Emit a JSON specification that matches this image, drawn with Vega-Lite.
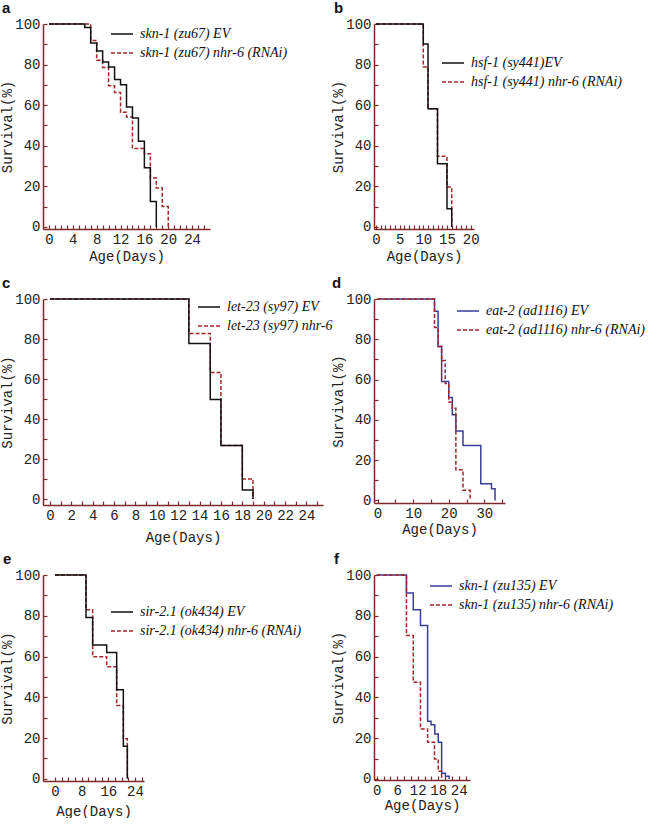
{
  "$schema": "https://vega.github.io/schema/vega-lite/v6.json",
  "background": "white",
  "padding": {"left": 0, "top": 1, "right": 0, "bottom": 0},
  "columns": 2,
  "bounds": "flush",
  "align": "each",
  "spacing": {"row": 70, "column": 51},
  "resolve": {
    "scale": {"color": "independent", "strokeDash": "independent", "x": "independent", "y": "independent"},
    "legend": {"color": "independent", "strokeDash": "independent"}
  },
  "concat": [
    {
      "title": {"text": "a", "dx": -41},
      "width": 167, "height": 205,
      "data": {"values": [
        {"day": 0, "surv": 100, "series": "skn-1 (zu67) nhr-6 (RNAi)"},
        {"day": 7, "surv": 91.9, "series": "skn-1 (zu67) nhr-6 (RNAi)"},
        {"day": 8, "surv": 82.1, "series": "skn-1 (zu67) nhr-6 (RNAi)"},
        {"day": 9, "surv": 78.6, "series": "skn-1 (zu67) nhr-6 (RNAi)"},
        {"day": 10, "surv": 69.6, "series": "skn-1 (zu67) nhr-6 (RNAi)"},
        {"day": 11, "surv": 66.3, "series": "skn-1 (zu67) nhr-6 (RNAi)"},
        {"day": 12, "surv": 56.5, "series": "skn-1 (zu67) nhr-6 (RNAi)"},
        {"day": 13, "surv": 54.2, "series": "skn-1 (zu67) nhr-6 (RNAi)"},
        {"day": 14, "surv": 38.6, "series": "skn-1 (zu67) nhr-6 (RNAi)"},
        {"day": 16, "surv": 36.1, "series": "skn-1 (zu67) nhr-6 (RNAi)"},
        {"day": 17, "surv": 24.1, "series": "skn-1 (zu67) nhr-6 (RNAi)"},
        {"day": 18, "surv": 19.2, "series": "skn-1 (zu67) nhr-6 (RNAi)"},
        {"day": 19, "surv": 10.1, "series": "skn-1 (zu67) nhr-6 (RNAi)"},
        {"day": 20, "surv": 0, "series": "skn-1 (zu67) nhr-6 (RNAi)"},
        {"day": 0, "surv": 100, "series": "skn-1 (zu67) EV"},
        {"day": 6, "surv": 98.3, "series": "skn-1 (zu67) EV"},
        {"day": 7, "surv": 90.6, "series": "skn-1 (zu67) EV"},
        {"day": 8, "surv": 86.7, "series": "skn-1 (zu67) EV"},
        {"day": 9, "surv": 81.3, "series": "skn-1 (zu67) EV"},
        {"day": 10, "surv": 78.8, "series": "skn-1 (zu67) EV"},
        {"day": 11, "surv": 72.6, "series": "skn-1 (zu67) EV"},
        {"day": 12, "surv": 70.1, "series": "skn-1 (zu67) EV"},
        {"day": 13, "surv": 59.1, "series": "skn-1 (zu67) EV"},
        {"day": 14, "surv": 53.7, "series": "skn-1 (zu67) EV"},
        {"day": 15, "surv": 42.2, "series": "skn-1 (zu67) EV"},
        {"day": 16, "surv": 29.2, "series": "skn-1 (zu67) EV"},
        {"day": 17, "surv": 12.6, "series": "skn-1 (zu67) EV"},
        {"day": 18, "surv": 0, "series": "skn-1 (zu67) EV"}
      ]},
      "mark": {"type": "line"},
      "encoding": {
        "x": {"field": "day", "type": "quantitative", "scale": {"domain": [-1, 27], "nice": false, "zero": false},
          "axis": {"title": "Age(Days)", "titlePadding": 3, "format": "d", "values": [0,1,2,3,4,5,6,7,8,9,10,11,12,13,14,15,16,17,18,19,20,21,22,23,24,25,26], "labelExpr": "datum.value % 4 === 0 ? datum.label : ''"}},
        "y": {"field": "surv", "type": "quantitative", "scale": {"domain": [-1, 100], "nice": false, "zero": false},
          "axis": {"title": "Survival(%)", "values": [0,10,20,30,40,50,60,70,80,90,100], "labelExpr": "datum.value % 20 === 0 ? datum.label : ''"}},
        "color": {"field": "series", "type": "nominal", "scale": {"domain": ["skn-1 (zu67) EV", "skn-1 (zu67) nhr-6 (RNAi)"], "range": ["#111111", "#a3262a"]},
          "legend": {"title": null, "orient": "none", "legendX": 67, "legendY": -2}},
        "strokeDash": {"field": "series", "type": "nominal", "scale": {"domain": ["skn-1 (zu67) EV", "skn-1 (zu67) nhr-6 (RNAi)"], "range": [[1, 0], [4, 2]]},
          "legend": {"title": null, "orient": "none", "legendX": 67, "legendY": -2}}
      }
    },
    {
      "title": {"text": "b", "dx": -40},
      "width": 100, "height": 205,
      "data": {"values": [
        {"day": 0, "surv": 100, "series": "hsf-1 (sy441) nhr-6 (RNAi)"},
        {"day": 10, "surv": 78.8, "series": "hsf-1 (sy441) nhr-6 (RNAi)"},
        {"day": 11, "surv": 58.3, "series": "hsf-1 (sy441) nhr-6 (RNAi)"},
        {"day": 13, "surv": 34.8, "series": "hsf-1 (sy441) nhr-6 (RNAi)"},
        {"day": 15, "surv": 19.7, "series": "hsf-1 (sy441) nhr-6 (RNAi)"},
        {"day": 16, "surv": 0, "series": "hsf-1 (sy441) nhr-6 (RNAi)"},
        {"day": 0, "surv": 100, "series": "hsf-1 (sy441)EV"},
        {"day": 10, "surv": 90.1, "series": "hsf-1 (sy441)EV"},
        {"day": 11, "surv": 58.3, "series": "hsf-1 (sy441)EV"},
        {"day": 13, "surv": 31.2, "series": "hsf-1 (sy441)EV"},
        {"day": 15, "surv": 9, "series": "hsf-1 (sy441)EV"},
        {"day": 16, "surv": 0, "series": "hsf-1 (sy441)EV"}
      ]},
      "mark": {"type": "line"},
      "encoding": {
        "x": {"field": "day", "type": "quantitative", "scale": {"domain": [-0.4, 20.7], "nice": false, "zero": false},
          "axis": {"title": "Age(Days)", "titlePadding": 3, "format": "d", "values": [0,0.5,1,1.5,2,2.5,3,3.5,4,4.5,5,5.5,6,6.5,7,7.5,8,8.5,9,9.5,10,10.5,11,11.5,12,12.5,13,13.5,14,14.5,15,15.5,16,16.5,17,17.5,18,18.5,19,19.5,20,20.5], "labelExpr": "datum.value % 5 === 0 ? datum.label : ''"}},
        "y": {"field": "surv", "type": "quantitative", "scale": {"domain": [-1, 100], "nice": false, "zero": false},
          "axis": {"title": "Survival(%)", "values": [0,10,20,30,40,50,60,70,80,90,100], "labelExpr": "datum.value % 20 === 0 ? datum.label : ''"}},
        "color": {"field": "series", "type": "nominal", "scale": {"domain": ["hsf-1 (sy441)EV", "hsf-1 (sy441) nhr-6 (RNAi)"], "range": ["#111111", "#a3262a"]},
          "legend": {"title": null, "orient": "none", "legendX": 67, "legendY": 27}},
        "strokeDash": {"field": "series", "type": "nominal", "scale": {"domain": ["hsf-1 (sy441)EV", "hsf-1 (sy441) nhr-6 (RNAi)"], "range": [[1, 0], [4, 2]]},
          "legend": {"title": null, "orient": "none", "legendX": 67, "legendY": 27}}
      }
    },
    {
      "title": {"text": "c", "dx": -41},
      "width": 280, "height": 206,
      "data": {"values": [
        {"day": 0, "surv": 100, "series": "let-23 (sy97) nhr-6"},
        {"day": 13, "surv": 82.8, "series": "let-23 (sy97) nhr-6"},
        {"day": 15, "surv": 63.3, "series": "let-23 (sy97) nhr-6"},
        {"day": 16, "surv": 26.7, "series": "let-23 (sy97) nhr-6"},
        {"day": 18, "surv": 10, "series": "let-23 (sy97) nhr-6"},
        {"day": 19, "surv": 0, "series": "let-23 (sy97) nhr-6"},
        {"day": 0, "surv": 100, "series": "let-23 (sy97) EV"},
        {"day": 13, "surv": 77.8, "series": "let-23 (sy97) EV"},
        {"day": 15, "surv": 49.8, "series": "let-23 (sy97) EV"},
        {"day": 16, "surv": 26.7, "series": "let-23 (sy97) EV"},
        {"day": 18, "surv": 4.5, "series": "let-23 (sy97) EV"},
        {"day": 19, "surv": 0, "series": "let-23 (sy97) EV"}
      ]},
      "mark": {"type": "line"},
      "encoding": {
        "x": {"field": "day", "type": "quantitative", "scale": {"domain": [-0.65, 25.55], "nice": false, "zero": false},
          "axis": {"title": "Age(Days)", "format": "d", "titlePadding": 8, "values": [0,0.5,1,1.5,2,2.5,3,3.5,4,4.5,5,5.5,6,6.5,7,7.5,8,8.5,9,9.5,10,10.5,11,11.5,12,12.5,13,13.5,14,14.5,15,15.5,16,16.5,17,17.5,18,18.5,19,19.5,20,20.5,21,21.5,22,22.5,23,23.5,24,24.5,25,25.5], "labelExpr": "datum.value % 2 === 0 ? datum.label : ''"}},
        "y": {"field": "surv", "type": "quantitative", "scale": {"domain": [-3, 100], "nice": false, "zero": false},
          "axis": {"title": "Survival(%)", "values": [0,10,20,30,40,50,60,70,80,90,100], "labelExpr": "datum.value % 20 === 0 ? datum.label : ''"}},
        "color": {"field": "series", "type": "nominal", "scale": {"domain": ["let-23 (sy97) EV", "let-23 (sy97) nhr-6"], "range": ["#111111", "#a3262a"]},
          "legend": {"title": null, "orient": "none", "legendX": 154, "legendY": -4}},
        "strokeDash": {"field": "series", "type": "nominal", "scale": {"domain": ["let-23 (sy97) EV", "let-23 (sy97) nhr-6"], "range": [[1, 0], [4, 2]]},
          "legend": {"title": null, "orient": "none", "legendX": 154, "legendY": -4}}
      }
    },
    {
      "title": {"text": "d", "dx": -42},
      "width": 131, "height": 204,
      "data": {"values": [
        {"day": 0, "surv": 100, "series": "eat-2 (ad1116) EV"},
        {"day": 16, "surv": 93.9, "series": "eat-2 (ad1116) EV"},
        {"day": 17, "surv": 76.4, "series": "eat-2 (ad1116) EV"},
        {"day": 18, "surv": 59, "series": "eat-2 (ad1116) EV"},
        {"day": 20, "surv": 51.1, "series": "eat-2 (ad1116) EV"},
        {"day": 21, "surv": 42.5, "series": "eat-2 (ad1116) EV"},
        {"day": 22, "surv": 34.5, "series": "eat-2 (ad1116) EV"},
        {"day": 24, "surv": 27.3, "series": "eat-2 (ad1116) EV"},
        {"day": 29, "surv": 8.3, "series": "eat-2 (ad1116) EV"},
        {"day": 32, "surv": 5.8, "series": "eat-2 (ad1116) EV"},
        {"day": 33, "surv": 0, "series": "eat-2 (ad1116) EV"},
        {"day": 0, "surv": 100, "series": "eat-2 (ad1116) nhr-6 (RNAi)"},
        {"day": 16, "surv": 85.9, "series": "eat-2 (ad1116) nhr-6 (RNAi)"},
        {"day": 17, "surv": 76.4, "series": "eat-2 (ad1116) nhr-6 (RNAi)"},
        {"day": 18, "surv": 69.4, "series": "eat-2 (ad1116) nhr-6 (RNAi)"},
        {"day": 19, "surv": 58, "series": "eat-2 (ad1116) nhr-6 (RNAi)"},
        {"day": 20, "surv": 48.8, "series": "eat-2 (ad1116) nhr-6 (RNAi)"},
        {"day": 21, "surv": 45.8, "series": "eat-2 (ad1116) nhr-6 (RNAi)"},
        {"day": 22, "surv": 15.2, "series": "eat-2 (ad1116) nhr-6 (RNAi)"},
        {"day": 24, "surv": 5, "series": "eat-2 (ad1116) nhr-6 (RNAi)"},
        {"day": 26, "surv": 0, "series": "eat-2 (ad1116) nhr-6 (RNAi)"}
      ]},
      "mark": {"type": "line"},
      "encoding": {
        "x": {"field": "day", "type": "quantitative", "scale": {"domain": [-1, 35.8], "nice": false, "zero": false},
          "axis": {"title": "Age(Days)", "titlePadding": 2, "values": [0,5,10,15,20,25,30,35], "labelExpr": "datum.value % 10 === 0 ? datum.label : ''"}},
        "y": {"field": "surv", "type": "quantitative", "scale": {"domain": [-1.3, 100], "nice": false, "zero": false},
          "axis": {"title": "Survival(%)", "values": [0,10,20,30,40,50,60,70,80,90,100], "labelExpr": "datum.value % 20 === 0 ? datum.label : ''"}},
        "color": {"field": "series", "type": "nominal", "scale": {"domain": ["eat-2 (ad1116) EV", "eat-2 (ad1116) nhr-6 (RNAi)"], "range": ["#3a3d9a", "#a3262a"]},
          "legend": {"title": null, "orient": "none", "legendX": 82, "legendY": 0,
            "encode": {"symbols": {"update": {"stroke": {"signal": "datum.value === 'eat-2 (ad1116) EV' ? '#111111' : '#a3262a'"}}}}}},
        "strokeDash": {"field": "series", "type": "nominal", "scale": {"domain": ["eat-2 (ad1116) EV", "eat-2 (ad1116) nhr-6 (RNAi)"], "range": [[1, 0], [4, 2]]},
          "legend": {"title": null, "orient": "none", "legendX": 82, "legendY": 0}}
      }
    },
    {
      "title": {"text": "e", "dx": -40},
      "width": 101, "height": 206,
      "data": {"values": [
        {"day": 0, "surv": 100, "series": "sir-2.1 (ok434) nhr-6 (RNAi)"},
        {"day": 9.3, "surv": 82.9, "series": "sir-2.1 (ok434) nhr-6 (RNAi)"},
        {"day": 11.3, "surv": 59.9, "series": "sir-2.1 (ok434) nhr-6 (RNAi)"},
        {"day": 15.5, "surv": 55, "series": "sir-2.1 (ok434) nhr-6 (RNAi)"},
        {"day": 18.5, "surv": 35.9, "series": "sir-2.1 (ok434) nhr-6 (RNAi)"},
        {"day": 20.5, "surv": 19.6, "series": "sir-2.1 (ok434) nhr-6 (RNAi)"},
        {"day": 21.7, "surv": 0, "series": "sir-2.1 (ok434) nhr-6 (RNAi)"},
        {"day": 0, "surv": 100, "series": "sir-2.1 (ok434) EV"},
        {"day": 9.3, "surv": 79.1, "series": "sir-2.1 (ok434) EV"},
        {"day": 11.3, "surv": 65.7, "series": "sir-2.1 (ok434) EV"},
        {"day": 15.5, "surv": 62, "series": "sir-2.1 (ok434) EV"},
        {"day": 18.5, "surv": 43.7, "series": "sir-2.1 (ok434) EV"},
        {"day": 20.5, "surv": 16, "series": "sir-2.1 (ok434) EV"},
        {"day": 21.7, "surv": 0, "series": "sir-2.1 (ok434) EV"}
      ]},
      "mark": {"type": "line"},
      "encoding": {
        "x": {"field": "day", "type": "quantitative", "scale": {"domain": [-3.6, 26.7], "nice": false, "zero": false},
          "axis": {"title": "Age(Days)", "titlePadding": 6, "values": [0,2,4,6,8,10,12,14,16,18,20,22,24,26], "labelExpr": "datum.value % 8 === 0 ? datum.label : ''"}},
        "y": {"field": "surv", "type": "quantitative", "scale": {"domain": [-1.1, 100], "nice": false, "zero": false},
          "axis": {"title": "Survival(%)", "values": [0,10,20,30,40,50,60,70,80,90,100], "labelExpr": "datum.value % 20 === 0 ? datum.label : ''"}},
        "color": {"field": "series", "type": "nominal", "scale": {"domain": ["sir-2.1 (ok434) EV", "sir-2.1 (ok434) nhr-6 (RNAi)"], "range": ["#111111", "#a3262a"]},
          "legend": {"title": null, "orient": "none", "legendX": 67, "legendY": 25}},
        "strokeDash": {"field": "series", "type": "nominal", "scale": {"domain": ["sir-2.1 (ok434) EV", "sir-2.1 (ok434) nhr-6 (RNAi)"], "range": [[1, 0], [4, 2]]},
          "legend": {"title": null, "orient": "none", "legendX": 67, "legendY": 25}}
      }
    },
    {
      "title": {"text": "f", "dx": -40},
      "width": 96, "height": 205,
      "data": {"values": [
        {"day": 0, "surv": 100, "series": "skn-1 (zu135) EV"},
        {"day": 8.7, "surv": 91.2, "series": "skn-1 (zu135) EV"},
        {"day": 10.7, "surv": 83, "series": "skn-1 (zu135) EV"},
        {"day": 12.8, "surv": 75.2, "series": "skn-1 (zu135) EV"},
        {"day": 14.9, "surv": 28.3, "series": "skn-1 (zu135) EV"},
        {"day": 15.9, "surv": 26.6, "series": "skn-1 (zu135) EV"},
        {"day": 17, "surv": 22.1, "series": "skn-1 (zu135) EV"},
        {"day": 18, "surv": 18, "series": "skn-1 (zu135) EV"},
        {"day": 19, "surv": 2.8, "series": "skn-1 (zu135) EV"},
        {"day": 20.1, "surv": 1.3, "series": "skn-1 (zu135) EV"},
        {"day": 21.2, "surv": 0, "series": "skn-1 (zu135) EV"},
        {"day": 0, "surv": 100, "series": "skn-1 (zu135) nhr-6 (RNAi)"},
        {"day": 8.7, "surv": 70.3, "series": "skn-1 (zu135) nhr-6 (RNAi)"},
        {"day": 10.7, "surv": 47.4, "series": "skn-1 (zu135) nhr-6 (RNAi)"},
        {"day": 12.8, "surv": 24.5, "series": "skn-1 (zu135) nhr-6 (RNAi)"},
        {"day": 14.9, "surv": 18, "series": "skn-1 (zu135) nhr-6 (RNAi)"},
        {"day": 16.9, "surv": 9.8, "series": "skn-1 (zu135) nhr-6 (RNAi)"},
        {"day": 18, "surv": 3.8, "series": "skn-1 (zu135) nhr-6 (RNAi)"},
        {"day": 19, "surv": 0, "series": "skn-1 (zu135) nhr-6 (RNAi)"}
      ]},
      "mark": {"type": "line"},
      "encoding": {
        "x": {"field": "day", "type": "quantitative", "scale": {"domain": [-0.8, 27.3], "nice": false, "zero": false},
          "axis": {"title": "Age(Days)", "titlePadding": 1, "values": [0,2,4,6,8,10,12,14,16,18,20,22,24,26], "labelExpr": "datum.value % 6 === 0 ? datum.label : ''"}},
        "y": {"field": "surv", "type": "quantitative", "scale": {"domain": [-0.5, 100], "nice": false, "zero": false},
          "axis": {"title": "Survival(%)", "values": [0,10,20,30,40,50,60,70,80,90,100], "labelExpr": "datum.value % 20 === 0 ? datum.label : ''"}},
        "color": {"field": "series", "type": "nominal", "scale": {"domain": ["skn-1 (zu135) EV", "skn-1 (zu135) nhr-6 (RNAi)"], "range": ["#3a3d9a", "#a3262a"]},
          "legend": {"title": null, "orient": "none", "legendX": 55, "legendY": -1,
            "encode": {"symbols": {"update": {"stroke": {"signal": "datum.value === 'skn-1 (zu135) EV' ? '#111111' : '#a3262a'"}}}}}},
        "strokeDash": {"field": "series", "type": "nominal", "scale": {"domain": ["skn-1 (zu135) EV", "skn-1 (zu135) nhr-6 (RNAi)"], "range": [[1, 0], [4, 2]]},
          "legend": {"title": null, "orient": "none", "legendX": 55, "legendY": -1}}
      }
    }
  ],
  "config": {
    "view": {"stroke": null},
    "axis": {
      "grid": false, "domainColor": "#7d2a2a", "domainWidth": 1.5,
      "tickColor": "#7d2a2a", "tickWidth": 1.2, "tickSize": -4,
      "labelFont": "Liberation Mono", "labelFontSize": 14, "labelColor": "#222222",
      "titleFont": "Liberation Mono", "titleFontSize": 14, "titleFontWeight": "normal", "titleColor": "#222222",
      "labelOverlap": false, "labelFlush": false, "labelBound": false
    },
    "axisX": {"labelPadding": 7, "titlePadding": 0},
    "axisY": {"labelPadding": 7, "titlePadding": 0},
    "legend": {
      "labelFont": "Liberation Serif", "labelFontStyle": "italic", "labelFontSize": 14, "labelColor": "#111111",
      "symbolType": "stroke", "symbolSize": 484, "symbolStrokeWidth": 1.5, "labelOffset": 6,
      "rowPadding": -5, "padding": 0, "labelLimit": 0
    },
    "title": {"anchor": "start", "frame": "group", "font": "Liberation Sans", "fontSize": 15, "fontWeight": "bold", "color": "#111111", "offset": 1},
    "line": {"interpolate": "step-after", "strokeWidth": 1.5}
  }
}
